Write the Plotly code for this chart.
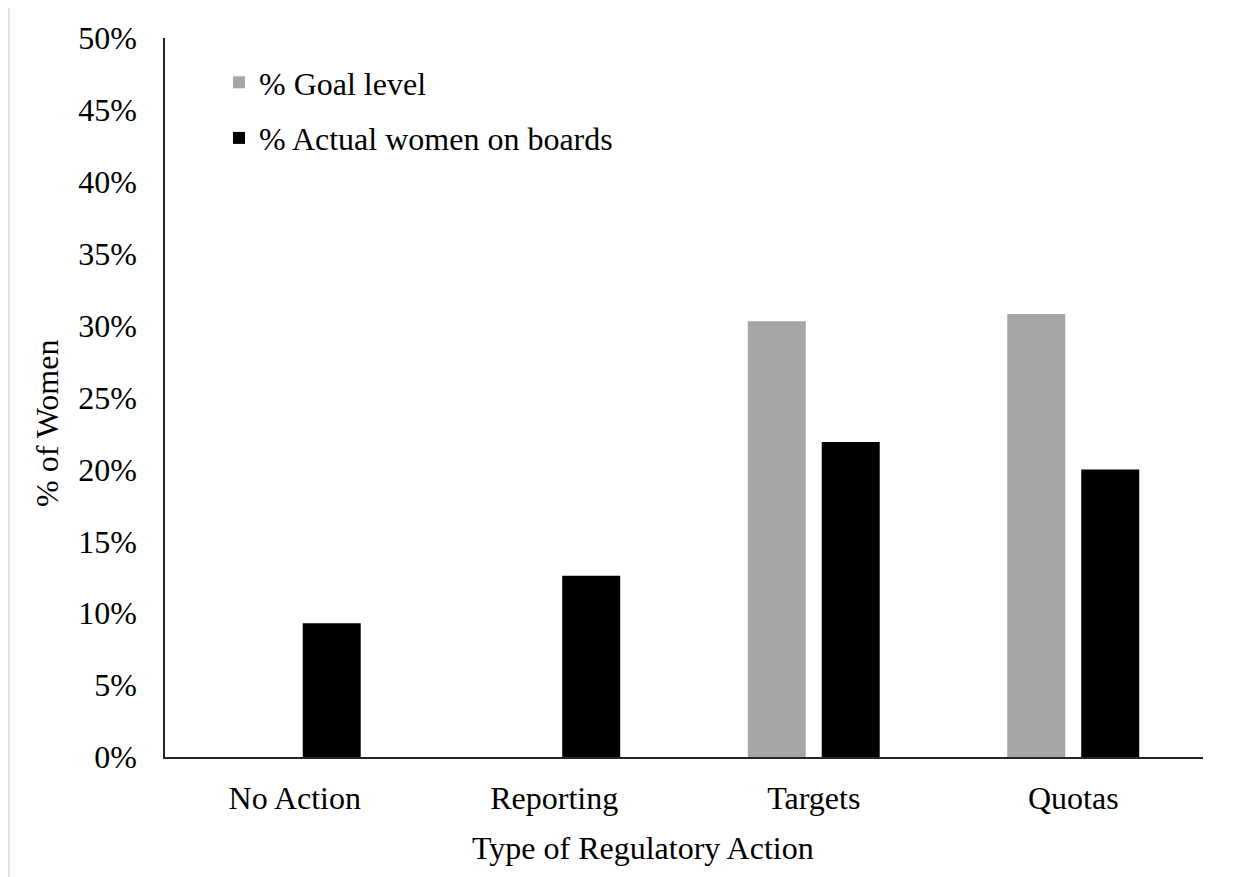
import plotly.graph_objects as go

categories = ["No Action", "Reporting", "Targets", "Quotas"]
goal_level = [None, None, 30.3, 30.8]
actual_women = [9.3, 12.6, 21.9, 20.0]
tick_vals = [0, 5, 10, 15, 20, 25, 30, 35, 40, 45, 50]
tick_text = [f"{v}%" for v in tick_vals]

FONT = "Liberation Serif, Times New Roman, serif"
FS = 32
OFF = 8  # page body margin
W, H = 1236 - OFF, 877 - OFF
L, R, T, B = 165 - OFF, 33, 38 - OFF, 120
PW, PH = W - L - R, H - T - B

def px(sx):
    return (sx - OFF - L) / PW

def py(sy):
    return (H - B - (sy - OFF)) / PH

fig = go.Figure()
fig.add_trace(go.Bar(x=categories, y=goal_level, name="% Goal level",
                     marker=dict(color="#A6A6A6", line=dict(width=0)),
                     legendgroup="g1"))
fig.add_trace(go.Bar(x=categories, y=actual_women, name="% Actual women on boards",
                     marker=dict(color="#000000", line=dict(width=0)),
                     legendgroup="g2"))

fig.update_layout(
    width=W, height=H,
    margin=dict(l=L, r=R, t=T, b=B, autoexpand=False),
    paper_bgcolor="white", plot_bgcolor="white",
    font=dict(family=FONT, size=FS, color="black"),
    barmode="group", bargap=0.43, bargroupgap=0.216,
    showlegend=True,
    legend=dict(x=px(219), y=py(55), xanchor="left", yanchor="top",
                bgcolor="rgba(0,0,0,0)", font=dict(size=FS, family=FONT),
                tracegroupgap=11, itemclick=False),
    xaxis=dict(showline=True, linecolor="#262626", linewidth=1.5,
               showgrid=False, ticks="", zeroline=False,
               tickfont=dict(size=FS), ticklabelstandoff=12),
    yaxis=dict(range=[0, 50], tickvals=tick_vals, ticktext=tick_text,
               showline=True, linecolor="#262626", linewidth=1.5,
               showgrid=False, ticks="", zeroline=False,
               tickfont=dict(size=FS), ticklabelstandoff=20),
    shapes=[
        dict(type="line", xref="paper", yref="paper",
             x0=px(9), x1=px(9), y0=py(5), y1=py(877), line=dict(color="#D9D9D9", width=1.5)),
        dict(type="line", xref="paper", yref="paper",
             x0=px(9), x1=px(1236), y0=py(5), y1=py(5), line=dict(color="#D9D9D9", width=1.5)),
    ],
    annotations=[
        dict(text="% of Women", xref="paper", yref="paper", x=px(47), y=py(424),
             textangle=-90, showarrow=False, xanchor="center", yanchor="middle",
             font=dict(size=FS, family=FONT)),
        dict(text="Type of Regulatory Action", xref="paper", yref="paper", x=px(643), y=py(848),
             showarrow=False, xanchor="center", yanchor="middle",
             font=dict(size=FS, family=FONT)),
    ],
)

fig.write_html("out.html")
